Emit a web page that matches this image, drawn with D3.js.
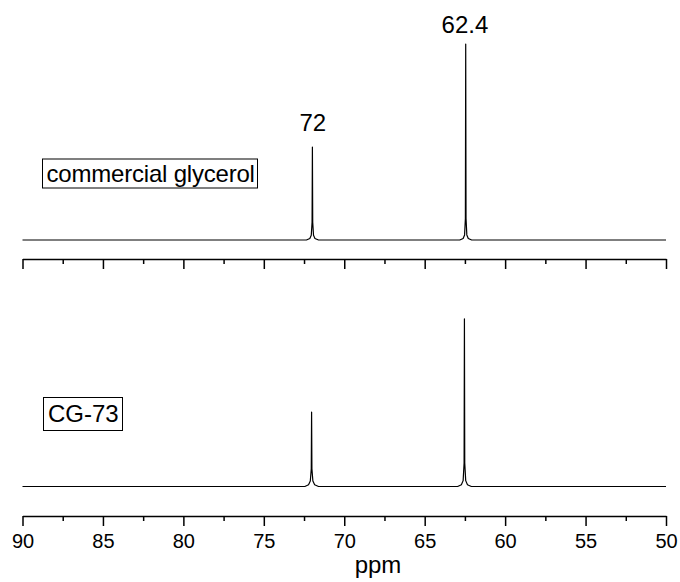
<!DOCTYPE html>
<html>
<head>
<meta charset="utf-8">
<script src="https://cdn.jsdelivr.net/npm/d3@7"></script>
<style>
  html, body { margin: 0; padding: 0; background: #fff; }
  svg { display: block; font-family: "Liberation Sans", Arial, sans-serif; }
</style>
</head>
<body>
<svg id="chart" width="680" height="582"></svg>
<script>
// ---- data ----
const xTicks = [90, 85, 80, 75, 70, 65, 60, 55, 50];
const xMinorTicks = [87.5, 82.5, 77.5, 72.5, 67.5, 62.5, 57.5, 52.5];
const sampleNames = ["commercial glycerol", "CG-73"];
const peakLabels = ["72", "62.4"];
const peakLabelPpm = [71.95, 62.5];

// [ppm, intensity]
const commercialGlycerol = [
  [90, 0], [72.35, 0], [72.14, 0.8], [72.05, 2.4], [72.00, 9], [71.98, 47.4],
  [71.96, 9], [71.91, 2.4], [71.82, 0.8], [71.6, 0],
  [62.82, 0], [62.61, 0.8], [62.52, 2.6], [62.47, 11], [62.45, 100],
  [62.43, 11], [62.38, 2.6], [62.29, 0.8], [62.08, 0], [50, 0]
];
const cg73 = [
  [90, 0], [72.45, 0], [72.22, 0.9], [72.11, 2.8], [72.05, 9], [72.03, 38],
  [72.01, 9], [71.95, 2.8], [71.84, 0.9], [71.6, 0],
  [62.95, 0], [62.72, 0.9], [62.61, 3.0], [62.55, 12], [62.53, 85.5],
  [62.51, 12], [62.45, 3.0], [62.34, 0.9], [62.1, 0], [50, 0]
];

// ---- layout ----
const svg = d3.select("#chart");
const x = d3.scaleLinear().domain([90, 50]).range([22.5, 666]);

const panels = [
  { data: commercialGlycerol, base: 240, axisY: 259, name: sampleNames[0],
    box: { x: 42.5, y: 159, w: 215, h: 29 }, textX: 46.5, textY: 182 },
  { data: cg73, base: 486.5, axisY: 516, name: sampleNames[1],
    box: { x: 43.5, y: 397.5, w: 79, h: 33 }, textX: 48, textY: 421.5 }
];

panels.forEach((p, i) => {
  const y = d3.scaleLinear().domain([0, 100]).range([p.base, p.base - 196]);
  const line = d3.line().x(d => x(d[0])).y(d => y(d[1]));
  svg.append("path")
    .datum(p.data)
    .attr("d", line)
    .attr("fill", "none")
    .attr("stroke", "#000")
    .attr("stroke-width", 1.2)
    .attr("stroke-linejoin", "round");

  // major axis
  const axMajor = d3.axisBottom(x).tickValues(xTicks).tickSize(10).tickSizeOuter(0)
    .tickPadding(7.5).tickFormat(i === 1 ? d3.format("d") : () => "");
  const gMaj = svg.append("g").attr("transform", `translate(0,${p.axisY})`).call(axMajor);
  gMaj.select(".domain").attr("stroke-width", 1.5);
  gMaj.selectAll(".tick line").attr("stroke-width", 1.5);
  gMaj.selectAll(".tick text").attr("font-size", 20).attr("fill", "#000")
    .attr("font-family", "Liberation Sans, Arial, sans-serif");

  // minor ticks
  const axMinor = d3.axisBottom(x).tickValues(xMinorTicks).tickSize(5).tickSizeOuter(0)
    .tickFormat(() => "");
  const gMin = svg.append("g").attr("transform", `translate(0,${p.axisY})`).call(axMinor);
  gMin.select(".domain").remove();
  gMin.selectAll(".tick line").attr("stroke-width", 1.5);

  // sample label box
  svg.append("rect")
    .attr("x", p.box.x).attr("y", p.box.y)
    .attr("width", p.box.w).attr("height", p.box.h)
    .attr("fill", "none").attr("stroke", "#000").attr("stroke-width", 1);
  svg.append("text")
    .attr("x", p.textX).attr("y", p.textY)
    .attr("font-size", 24)
    .attr("letter-spacing", i === 0 ? -0.2 : 0)
    .attr("fill", "#000")
    .text(p.name);
});

// peak labels on the top spectrum
const peakLabelY = [131, 33];
peakLabels.forEach((t, i) => {
  svg.append("text")
    .attr("x", x(peakLabelPpm[i]))
    .attr("y", peakLabelY[i])
    .attr("text-anchor", "middle")
    .attr("font-size", 24)
    .attr("fill", "#000")
    .text(t);
});

// axis title
svg.append("text")
  .attr("x", 378)
  .attr("y", 573)
  .attr("text-anchor", "middle")
  .attr("font-size", 24)
  .attr("fill", "#000")
  .text("ppm");
</script>
</body>
</html>
